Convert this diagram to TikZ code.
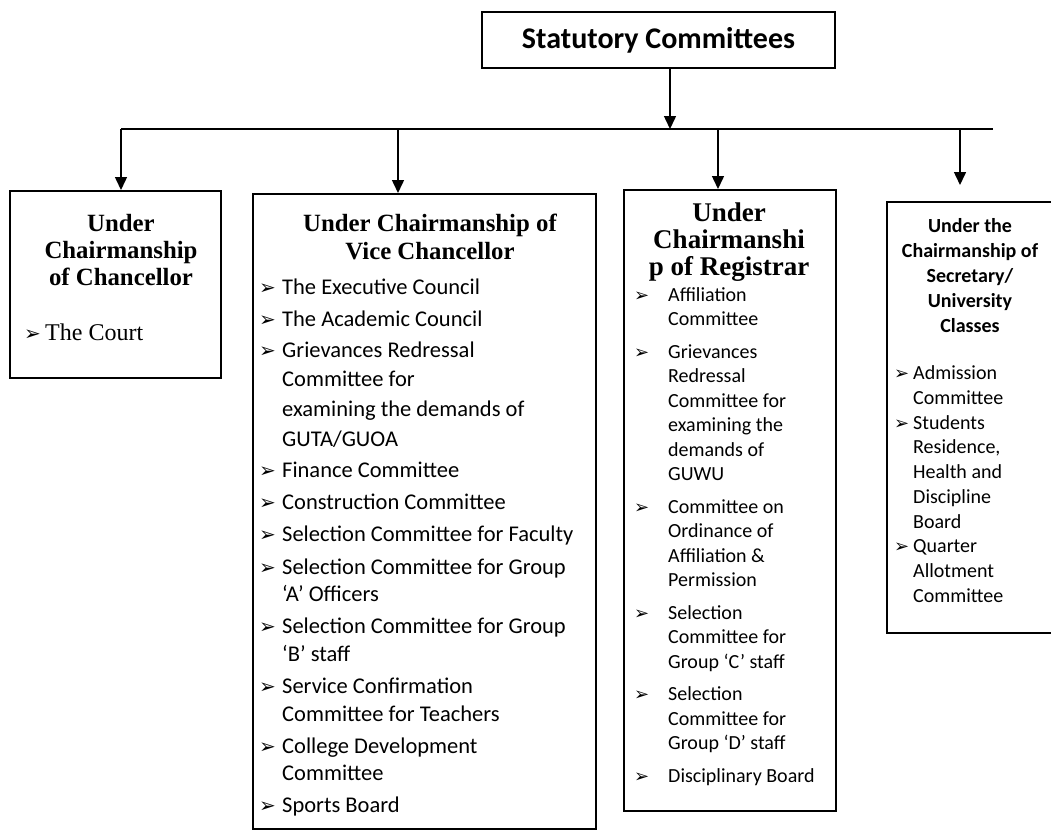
\documentclass[tikz,border=0pt]{standalone}
\usepackage{fontspec}
\setmainfont{Liberation Serif}
\newfontfamily\calibri{Carlito}
\newfontfamily\dingfont{DejaVu Sans}
\usetikzlibrary{arrows.meta}

\tikzset{
  box/.style={draw, line width=1.8pt, inner sep=0, anchor=north west},
  conn/.style={line width=1.5pt},
  drop/.style={conn, -{Triangle[width=12pt,length=13pt]}},
  head/.style={font=\bfseries\fontsize{24.8}{28}\selectfont, anchor=base, inner sep=0},
  entry/.style={font=\calibri\fontsize{22.5}{27}\selectfont, anchor=base west, inner sep=0},
  bul/.style={font=\dingfont\fontsize{20}{20}\selectfont, anchor=base west, inner sep=0},
  smallbul/.style={bul, font=\dingfont\fontsize{18}{18}\selectfont},
}

\begin{document}
\begin{tikzpicture}[x=1pt,y=-1pt]
  \useasboundingbox (0,0) rectangle (1051,833);

  % top box and the bus line under it
  \node[box, anchor=center, minimum width=353pt, minimum height=56pt,
        font=\calibri\bfseries\fontsize{30}{36}\selectfont] (stat) at (658.5,40) {Statutory Committees};
  \coordinate (bus-c) at (670,129);
  \coordinate (bus-l) at (121,129);
  \coordinate (bus-r) at (993,129);
  \coordinate (drop-vc) at (398,129);
  \coordinate (drop-reg) at (718,129);
  \coordinate (drop-secy) at (960,129);

  % the four boxes
  \node[box, minimum width=211pt, minimum height=187pt] (chanc) at (9,190) {};
  \node[box, minimum width=343pt, minimum height=635pt] (vc) at (252,193) {};
  \node[box, minimum width=212pt, minimum height=621pt] (reg) at (623,189) {};
  \node[box, minimum width=185pt, minimum height=431pt] (secy) at (886,201) {};

  % Chancellor
  \foreach \y/\t [count=\i] in {231/Under, 258/Chairmanship, 285/of Chancellor}
    \node[head] (chanc-h\i) at (121,\y) {\t};
  \node[bul] (chanc-b1) at (24,340) {➢};
  \node[entry, font=\fontsize{24}{28}\selectfont] (chanc-1) at (45,340) {The Court};

  % Vice Chancellor
  \foreach \y/\t [count=\i] in {231/Under Chairmanship of, 259/Vice Chancellor}
    \node[head] (vc-h\i) at (430,\y) {\t};
  \foreach \y/\b/\t [count=\i] in {294/1/The Executive Council, 326/1/The Academic Council,
      357/1/Grievances Redressal, 386/0/Committee for, 416/0/examining the demands of,
      446/0/{GUTA/GUOA}, 477/1/Finance Committee, 509/1/Construction Committee,
      541/1/Selection Committee for Faculty, 574/1/Selection Committee for Group,
      601/0/‘A’ Officers, 633/1/Selection Committee for Group, 661/0/‘B’ staff,
      693/1/Service Confirmation, 721/0/Committee for Teachers,
      753/1/College Development, 780/0/Committee, 812/1/Sports Board}{
    \node[entry] (vc-\i) at (282,\y) {\t};
    \ifnum\b=1 \node[bul] (vc-b\i) at (259,\y) {➢};\fi
  }

  % Registrar
  \foreach \y/\t [count=\i] in {221/Under, 248/Chairmanshi, 275/p of Registrar}
    \node[head, font=\bfseries\fontsize{27}{30}\selectfont] (reg-h\i) at (729,\y) {\t};
  \foreach \y/\b/\t [count=\i] in {301/1/Affiliation, 325.5/0/Committee,
      358/1/Grievances, 382.5/0/Redressal, 407/0/Committee for, 431.5/0/examining the,
      456/0/demands of, 480.5/0/GUWU,
      513/1/Committee on, 537.5/0/Ordinance of, 562/0/Affiliation \&, 586.5/0/Permission,
      619/1/Selection, 643.5/0/Committee for, 668/0/Group ‘C’ staff,
      700.5/1/Selection, 725/0/Committee for, 749.5/0/Group ‘D’ staff,
      782/1/Disciplinary Board}{
    \node[entry, font=\calibri\fontsize{20}{24}\selectfont] (reg-\i) at (668,\y) {\t};
    \ifnum\b=1 \node[smallbul] (reg-b\i) at (634,\y) {➢};\fi
  }

  % Secretary
  \foreach \y/\t [count=\i] in {232/Under the, 257/Chairmanship of, 282/{Secretary/},
      307/University, 332/Classes}
    \node[head, font=\calibri\bfseries\fontsize{20}{24}\selectfont] (secy-h\i) at (970,\y) {\t};
  \foreach \y/\b/\t [count=\i] in {379/1/Admission, 404/0/Committee, 429/1/Students,
      453/0/Residence{,}, 478/0/Health and, 503/0/Discipline, 528/0/Board,
      552/1/Quarter, 577/0/Allotment, 602/0/Committee}{
    \node[entry, font=\calibri\fontsize{20}{24}\selectfont] (secy-\i) at (913,\y) {\t};
    \ifnum\b=1 \node[smallbul] (secy-b\i) at (894,\y) {➢};\fi
  }

  % connectors
  \draw[drop] (stat.south -| bus-c) -- (bus-c);
  \draw[conn] (bus-l) -- (bus-r);
  \draw[drop] (bus-l) -- (bus-l |- chanc.north);
  \draw[drop] (drop-vc) -- (drop-vc |- vc.north);
  \draw[drop] (drop-reg) -- (drop-reg |- reg.north);
  \draw[drop, shorten >=16pt] (drop-secy) -- (drop-secy |- secy.north);
\end{tikzpicture}
\end{document}
